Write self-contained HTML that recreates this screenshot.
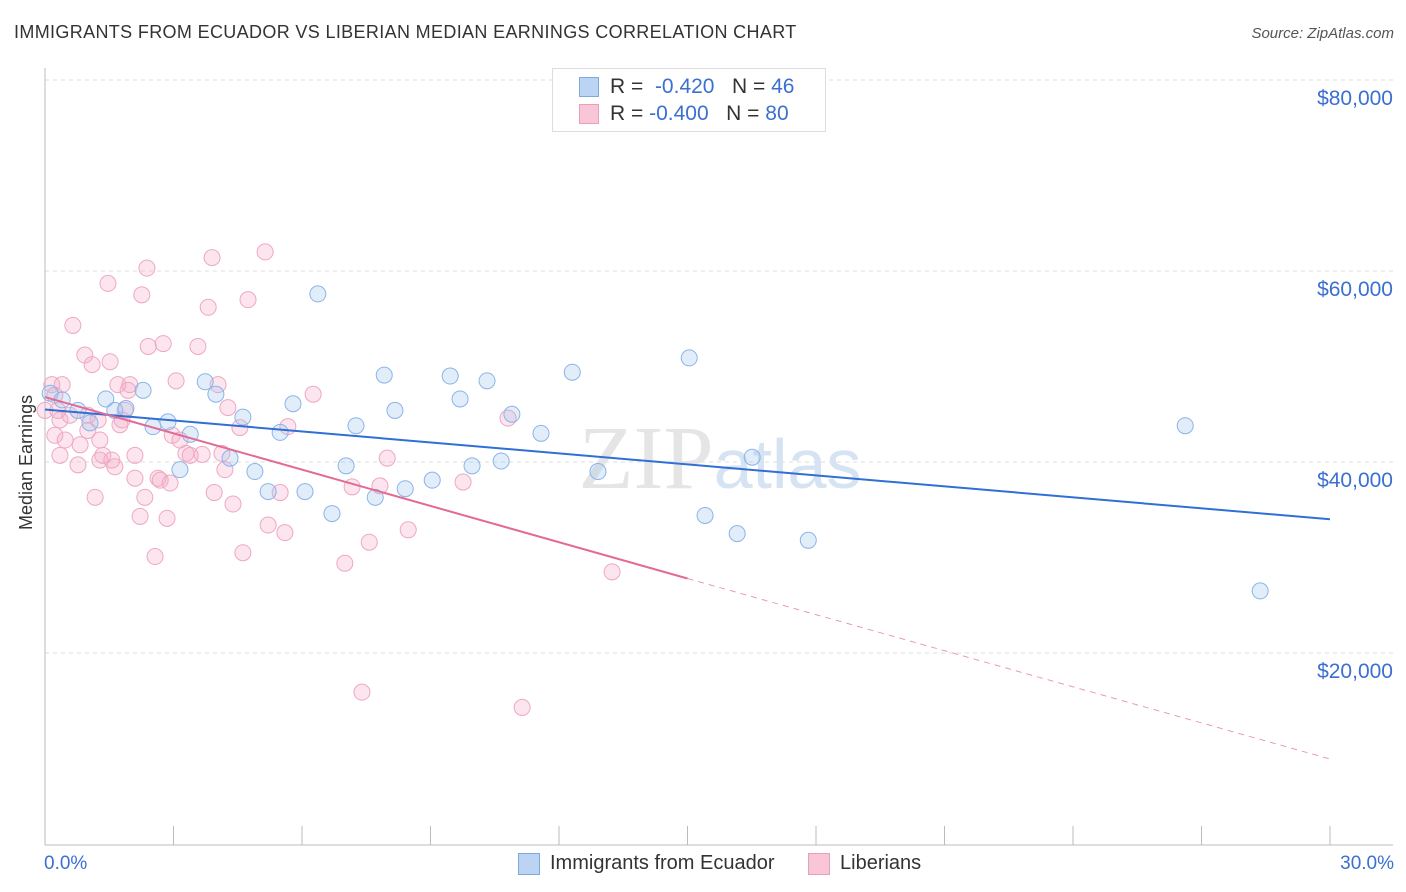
<!DOCTYPE html>
<html><head><meta charset="utf-8">
<style>
body{margin:0;background:#fff;font-family:"Liberation Sans",sans-serif;}
#wrap{position:relative;width:1406px;height:892px;overflow:hidden;}
.t{position:absolute;white-space:nowrap;}
</style></head>
<body>
<div id="wrap">
<div class="t" style="left:14px;top:22px;font-size:18px;color:#333;letter-spacing:0.35px">IMMIGRANTS FROM ECUADOR VS LIBERIAN MEDIAN EARNINGS CORRELATION CHART</div>
<div class="t" style="right:12px;top:25px;font-size:15px;color:#555;font-style:italic">Source: ZipAtlas.com</div>
<svg id="svg" width="1406" height="892" style="position:absolute;left:0;top:0"></svg>
</div>
<script>
const blueX=[0.12,0.40,0.77,1.05,1.42,1.63,1.89,2.29,2.52,2.87,3.15,3.39,3.74,3.99,4.32,4.62,4.90,5.21,5.49,5.79,6.07,6.37,6.70,7.03,7.26,7.71,7.92,8.17,8.41,9.04,9.46,9.69,9.97,10.32,10.65,10.90,11.58,12.31,12.91,15.04,15.41,16.16,16.51,17.82,26.62,28.37];
const blueY=[47200,46500,45400,44100,46600,45400,45600,47500,43700,44200,39200,42900,48400,47100,40400,44700,39000,36900,43100,46100,36900,57600,34600,39600,43800,36300,49100,45400,37200,38100,49000,46600,39600,48500,40100,45000,43000,49400,39000,50900,34400,32500,40500,31800,43800,26500];
const pinkX=[0.16,0.23,0.30,0.35,0.23,0.35,0.47,0.58,0.65,0.77,0.82,0.93,1.00,1.10,1.17,1.24,1.28,1.35,1.47,1.52,1.56,1.63,1.70,1.80,1.87,1.94,1.98,2.10,2.22,2.26,2.33,2.38,2.41,2.57,2.64,2.69,2.76,2.85,2.92,2.97,3.06,3.15,3.29,3.39,3.57,3.67,3.81,3.90,3.95,4.04,4.13,4.20,4.27,4.39,4.55,4.62,4.74,5.14,5.21,5.49,5.60,5.67,6.26,7.00,7.17,7.40,7.57,7.82,7.99,8.48,9.76,10.81,11.14,13.24,1.75,0.00,0.40,1.00,2.10,1.28];
const pinkY=[48100,47000,45400,44400,42800,40700,42300,44900,54300,39700,41800,51200,43300,50200,36300,44400,42300,40700,58700,50500,40200,39500,48100,44400,45400,47500,48100,38300,34300,57500,36300,60300,52100,30100,38300,38100,52400,34100,37800,42800,48500,42300,40900,40700,52100,40800,56200,61400,36800,48100,40900,39200,45700,35600,43600,30500,57000,62000,33400,36800,32600,43700,47100,29400,37400,15900,31600,37500,40400,32900,37900,44600,14300,28500,43900,45400,48100,44900,40700,40200];
const blueTrend=[[0,45500],[30,34000]];
const pinkTrend=[[0,46800],[15,27800],[30,8900]];
const yTicks=[20000,40000,60000,80000];
const yTickLabels=["$20,000","$40,000","$60,000","$80,000"];

const NS="http://www.w3.org/2000/svg";
const svg=document.getElementById('svg');
const X=v=>45+v*1285/30;
const Y=v=>653-(v-20000)*191/20000;
function mk(tag,attrs,parent){const e=document.createElementNS(NS,tag);for(const k in attrs)e.setAttribute(k,attrs[k]);(parent||svg).appendChild(e);return e;}

yTicks.forEach((t,i)=>{
  const g=mk('line',{x1:45,x2:1393,y1:Y(t),y2:Y(t),stroke:'#ddd','stroke-dasharray':'4,4'});
  
  
  const tx=mk('text',{x:1393,y:Y(t)+25,'text-anchor':'end','font-size':21,fill:'#3b6fd1','font-family':'Liberation Sans, sans-serif'});
  tx.textContent=yTickLabels[i];
  
  
});
const ax=mk('line',{x1:45,x2:1393,y1:845,y2:845,stroke:'#bbb'});


const ay=mk('line',{x1:45,x2:45,y1:68,y2:845,stroke:'#bbb'});


for(let i=0;i<=10;i++){
  const tk=mk('line',{x1:X(i*3),x2:X(i*3),y1:826,y2:845,stroke:'#bbb'});
  
  
}
const wm=mk('text',{x:720,y:488,'text-anchor':'middle','font-size':90,'font-family':'Liberation Serif, serif',fill:'#e5e5e5'});
wm.innerHTML='ZIP<tspan fill="#d6e3f3" font-family="Liberation Sans, sans-serif" font-size="70">atlas</tspan>';



pinkX.forEach((x,i)=>{
  const c=mk('circle',{cx:X(x),cy:Y(pinkY[i]),r:8,fill:'rgba(244,170,198,0.3)',stroke:'#eea8c0','stroke-width':1});
  
  
});
blueX.forEach((x,i)=>{
  const c=mk('circle',{cx:X(x),cy:Y(blueY[i]),r:8,fill:'rgba(160,196,240,0.3)',stroke:'#8ab4e8','stroke-width':1});
  
  
});
const bl=mk('line',{x1:X(blueTrend[0][0]),y1:Y(blueTrend[0][1]),x2:X(blueTrend[1][0]),y2:Y(blueTrend[1][1]),stroke:'#2f6fd6','stroke-width':2});


const pl=mk('line',{x1:X(pinkTrend[0][0]),y1:Y(pinkTrend[0][1]),x2:X(pinkTrend[1][0]),y2:Y(pinkTrend[1][1]),stroke:'#e36a95','stroke-width':2});


const pd=mk('line',{x1:X(pinkTrend[1][0]),y1:Y(pinkTrend[1][1]),x2:X(pinkTrend[2][0]),y2:Y(pinkTrend[2][1]),stroke:'#eb9ab7','stroke-width':1,'stroke-dasharray':'6,5'});


</script>
<div class="t" style="left:44px;top:853px;font-size:19px;color:#3b6fd1">0.0%</div>
<div class="t" style="right:12px;top:853px;font-size:19px;color:#3b6fd1">30.0%</div>
<div class="t" style="left:16px;top:530px;font-size:18px;color:#333;transform:rotate(-90deg);transform-origin:0 0">Median Earnings</div>
<div style="position:absolute;left:552px;top:68px;width:272px;height:62px;border:1px solid #ddd;background:#fff;font-size:21px">
 <div style="position:absolute;left:26px;top:8px;width:18px;height:18px;background:#bcd4f4;border:1px solid #7fa8e0"></div>
 <div class="t" style="left:57px;top:6px;color:#333">R = <span style="color:#3b6fd1">&nbsp;-0.420</span>&nbsp;&nbsp;&nbsp;N = <span style="color:#3b6fd1">46</span></div>
 <div style="position:absolute;left:26px;top:35px;width:18px;height:18px;background:#f8c6d6;border:1px solid #e8a0b8"></div>
 <div class="t" style="left:57px;top:33px;color:#333">R = <span style="color:#3b6fd1">-0.400</span>&nbsp;&nbsp;&nbsp;N = <span style="color:#3b6fd1">80</span></div>
</div>
<div style="position:absolute;left:518px;top:853px;width:20px;height:20px;background:#bcd4f4;border:1px solid #7fa8e0"></div>
<div class="t" style="left:550px;top:852px;font-size:20px;color:#333">Immigrants from Ecuador</div>
<div style="position:absolute;left:808px;top:853px;width:20px;height:20px;background:#f8c6d6;border:1px solid #e8a0b8"></div>
<div class="t" style="left:840px;top:852px;font-size:20px;color:#333">Liberians</div>
</body></html>
